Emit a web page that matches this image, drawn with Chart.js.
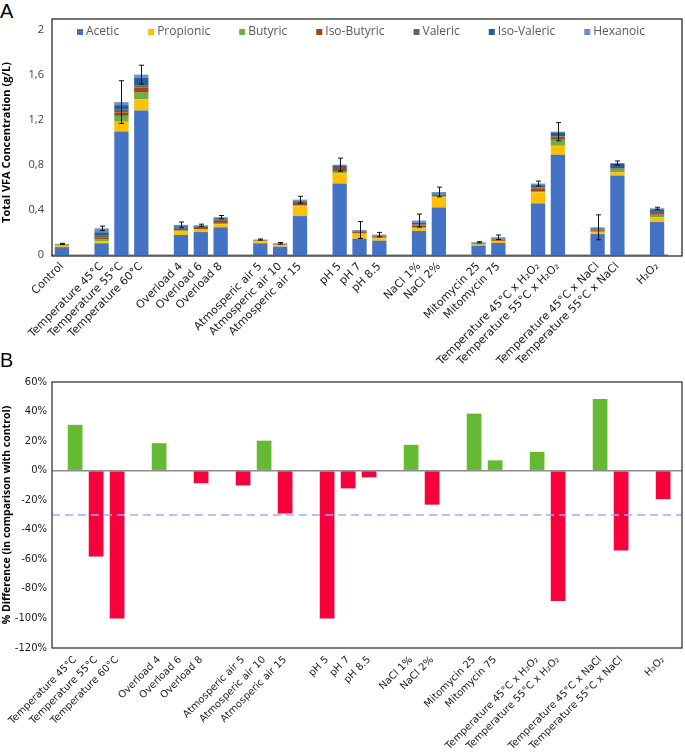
<!DOCTYPE html>
<html>
<head>
<meta charset="utf-8">
<script src="https://cdn.jsdelivr.net/npm/chart.js@4.4.0/dist/chart.umd.min.js"></script>
<style>
  body { margin: 0; background: #fff; }
  #page { position: relative; width: 685px; height: 753px; overflow: hidden; }
  .panel-tag { position: absolute; left: 0; font: 20px "Liberation Sans", Arial, sans-serif; line-height: 20px; color: #000; }
  canvas { position: absolute; left: 0; }
</style>
</head>
<body>
<div id="page">
  <div class="panel-tag" style="top:1px">A</div>
  <canvas id="chartA" width="685" height="370" style="top:0"></canvas>
  <div class="panel-tag" style="top:350px">B</div>
  <canvas id="chartB" width="685" height="383" style="top:370px"></canvas>
</div>
<script>
// Panel A - stacked VFA composition (g/L), blank strings are the gaps between groups
const labelsA = ['Control', '', 'Temperature 45°C', 'Temperature 55°C', 'Temperature 60°C', '',
  'Overload 4', 'Overload 6', 'Overload 8', '', 'Atmosperic air 5', 'Atmosperic air 10', 'Atmosperic air 15', '',
  'pH 5', 'pH 7', 'pH 8.5', '', 'NaCl 1%', 'NaCl 2%', '', 'Mitomycin 25', 'Mitomycin 75', '',
  'Temperature 45°C x H₂O₂', 'Temperature 55°C x H₂O₂', '', 'Temperature 45°C x NaCl', 'Temperature 55°C x NaCl', '', 'H₂O₂'];

const acetic     = [0.07, null, 0.104, 1.098, 1.284, null, 0.178, 0.204, 0.246, null, 0.104, 0.074, 0.346, null, 0.636, 0.145, 0.127, null, 0.213, 0.423, null, 0.083, 0.107, null, 0.459, 0.891, null, 0.186, 0.707, null, 0.293];
const propionic  = [0.012, null, 0.018, 0.086, 0.1, null, 0.03, 0.021, 0.027, null, 0.018, 0.012, 0.086, null, 0.092, 0.044, 0.021, null, 0.021, 0.089, null, 0.009, 0.012, null, 0.098, 0.08, null, 0.018, 0.027, null, 0.044];
const butyric    = [0.003, null, 0.015, 0.053, 0.059, null, 0.009, 0.006, 0.012, null, 0.003, 0.003, 0.009, null, 0.012, 0.006, 0.006, null, 0.012, 0.009, null, 0.006, 0.003, null, 0.012, 0.053, null, 0.009, 0.024, null, 0.012];
const isoButyric = [0.003, null, 0.02, 0.03, 0.047, null, 0.015, 0.009, 0.018, null, 0.003, 0.003, 0.021, null, 0.033, 0.009, 0.012, null, 0.015, 0.012, null, 0.004, 0.009, null, 0.024, 0.024, null, 0.006, 0.009, null, 0.012];
const valeric    = [0.002, null, 0.02, 0.024, 0.015, null, 0.015, 0.009, 0.012, null, 0.003, 0.003, 0.012, null, 0.009, 0.006, 0.006, null, 0.012, 0.006, null, 0.004, 0.006, null, 0.009, 0.006, null, 0.006, 0.006, null, 0.03];
const isoValeric = [0.003, null, 0.025, 0.041, 0.071, null, 0.009, 0.006, 0.012, null, 0.003, 0.003, 0.009, null, 0.009, 0.006, 0.003, null, 0.015, 0.009, null, 0.003, 0.009, null, 0.018, 0.036, null, 0.012, 0.036, null, 0.015];
const hexanoic   = [0.006, null, 0.035, 0.027, 0.027, null, 0.012, 0.009, 0.009, null, 0.003, 0.006, 0.009, null, 0.012, 0.006, 0.006, null, 0.018, 0.012, null, 0.004, 0.012, null, 0.015, 0.006, null, 0.009, 0.009, null, 0.009];
// standard deviation on the total
const errorA     = [0.005, null, 0.02, 0.19, 0.084, null, 0.025, 0.01, 0.015, null, 0.005, 0.007, 0.03, null, 0.058, 0.075, 0.02, null, 0.058, 0.043, null, 0.005, 0.02, null, 0.022, 0.081, null, 0.111, 0.018, null, 0.01];

const acidNames  = ['Acetic', 'Propionic', 'Butyric', 'Iso-Butyric', 'Valeric', 'Iso-Valeric', 'Hexanoic'];
const acidSeries = [acetic, propionic, butyric, isoButyric, valeric, isoValeric, hexanoic];
const acidColors = ['#4472C4', '#FFC000', '#70AD47', '#9E480E', '#636363', '#255E91', '#698ED0'];
const ticksA     = [0, 0.4, 0.8, 1.2, 1.6, 2];

// Panel B - % difference vs control
const labelsB = ['Temperature 45°C', 'Temperature 55°C', 'Temperature 60°C', '',
  'Overload 4', 'Overload 6', 'Overload 8', '', 'Atmosperic air 5', 'Atmosperic air 10', 'Atmosperic air 15', '',
  'pH 5', 'pH 7', 'pH 8.5', '', 'NaCl 1%', 'NaCl 2%', '', 'Mitomycin 25', 'Mitomycin 75', '',
  'Temperature 45°C x H₂O₂', 'Temperature 55°C x H₂O₂', '', 'Temperature 45°C x NaCl', 'Temperature 55°C x NaCl', '', 'H₂O₂'];
const diffB   = [31, -58, -100, null, 18.6, -0.5, -8.5, null, -10, 20.3, -29, null, -100, -12, -4.5, null, 17.5, -23, null, 38.6, 7, null, 12.7, -88.2, null, 48.5, -54, null, -19.3];
const thresholdB = -30;
const ticksB  = [-120, -100, -80, -60, -40, -20, 0, 20, 40, 60];

const tickFont = { family: 'DejaVu Sans', size: 11 };

// box around panel A (extends past the plot area like the Excel chart)
const frameA = {
  id: 'frameA',
  beforeDatasetsDraw(chart) {
    const { ctx, chartArea: a } = chart;
    ctx.save();
    ctx.strokeStyle = '#1a1a1a';
    ctx.lineWidth = 1.2;
    ctx.strokeRect(a.left, a.top - 11, a.right + 15 - a.left, a.bottom + 11 - a.top + 1);
    ctx.restore();
  }
};

const legendA = {
  id: 'legendA',
  afterDraw(chart) {
    const { ctx, chartArea: a } = chart;
    ctx.save();
    ctx.font = '12px "Open Sans"';
    ctx.textBaseline = 'middle';
    let x = a.left + 25;
    const y = a.top + 2;
    chart.data.datasets.forEach(ds => {
      ctx.fillStyle = ds.backgroundColor;
      ctx.fillRect(x, y - 3, 6, 6);
      ctx.fillStyle = '#595959';
      ctx.fillText(ds.label, x + 9, y);
      x += 9 + ctx.measureText(ds.label).width + 29;
    });
    ctx.restore();
  }
};

const errorBarsA = {
  id: 'errorBarsA',
  afterDatasetsDraw(chart) {
    const { ctx, scales: { x, y } } = chart;
    ctx.save();
    ctx.strokeStyle = '#111';
    ctx.lineWidth = 1;
    errorA.forEach((err, i) => {
      if (err == null) return;
      const total = acidSeries.reduce((s, arr) => s + (arr[i] || 0), 0);
      const px = Math.round(x.getPixelForValue(i)) + 0.5;
      const top = y.getPixelForValue(total + err);
      const bot = y.getPixelForValue(total - err);
      ctx.beginPath();
      ctx.moveTo(px, top); ctx.lineTo(px, bot);
      ctx.moveTo(px - 2.5, top); ctx.lineTo(px + 2.5, top);
      ctx.moveTo(px - 2.5, bot); ctx.lineTo(px + 2.5, bot);
      ctx.stroke();
    });
    ctx.restore();
  }
};

new Chart(document.getElementById('chartA'), {
  type: 'bar',
  data: {
    labels: labelsA,
    datasets: acidNames.map((name, i) => ({
      label: name,
      data: acidSeries[i],
      backgroundColor: acidColors[i],
      stack: 'vfa',
      barPercentage: 0.72,
      categoryPercentage: 1
    }))
  },
  options: {
    responsive: false,
    animation: false,
    layout: { padding: { top: 30, right: 18, left: 0, bottom: 0 } },
    plugins: { legend: { display: false }, tooltip: { enabled: false } },
    scales: {
      x: {
        stacked: true,
        grid: { display: false, drawTicks: false },
        border: { display: true, color: '#BFBFBF', width: 2 },
        ticks: { autoSkip: false, minRotation: 45, maxRotation: 45, padding: 5, color: '#1a1a1a', font: tickFont },
        afterFit: s => { s.height = 115; }
      },
      y: {
        stacked: true,
        min: 0,
        max: 2,
        afterBuildTicks: s => { s.ticks = ticksA.map(v => ({ value: v })); },
        ticks: {
          padding: 8,
          color: '#404040',
          font: { family: 'Open Sans', size: 11 },
          callback: v => String(v).replace('.', ',')
        },
        grid: { display: false, drawTicks: false },
        border: { display: false },
        title: {
          display: true,
          text: 'Total VFA Concentration (g/L)',
          color: '#000',
          font: { family: 'Open Sans', size: 11, weight: 'bold' },
          padding: { top: 0, bottom: 0 }
        },
        afterFit: s => { s.width = 52; }
      }
    }
  },
  plugins: [frameA, legendA, errorBarsA]
});

const frameB = {
  id: 'frameB',
  afterDraw(chart) {
    const { ctx, chartArea: a } = chart;
    ctx.save();
    ctx.strokeStyle = '#262626';
    ctx.lineWidth = 1.2;
    ctx.strokeRect(a.left, a.top, a.right - a.left, a.bottom - a.top);
    ctx.restore();
  }
};

const thresholdLineB = {
  id: 'thresholdLineB',
  afterDatasetsDraw(chart) {
    const { ctx, chartArea: a, scales: { y } } = chart;
    const py = y.getPixelForValue(thresholdB);
    ctx.save();
    ctx.strokeStyle = '#9AAEFF';
    ctx.lineWidth = 1.5;
    ctx.setLineDash([8, 5]);
    ctx.beginPath();
    ctx.moveTo(a.left, py); ctx.lineTo(a.right, py);
    ctx.stroke();
    ctx.restore();
  }
};

new Chart(document.getElementById('chartB'), {
  type: 'bar',
  data: {
    datasets: [{
      label: '% Difference',
      data: labelsB.map((l, i) => ({ x: i, y: diffB[i] })).filter(p => p.y != null),
      backgroundColor: c => (c.raw && c.raw.y >= 0) ? '#66B933' : '#F7003C',
      barPercentage: 0.7,
      categoryPercentage: 1
    }]
  },
  options: {
    responsive: false,
    animation: false,
    layout: { padding: { top: 12, right: 3, left: 0, bottom: 0 } },
    plugins: { legend: { display: false }, tooltip: { enabled: false } },
    scales: {
      x: {
        type: 'linear',
        min: -1.1,
        max: 28.9,
        offset: false,
        afterBuildTicks: s => { s.ticks = labelsB.map((l, i) => ({ value: i })); },
        grid: { display: false, drawTicks: false },
        border: { display: false },
        ticks: {
          autoSkip: false, minRotation: 45, maxRotation: 45, padding: 6, color: '#1a1a1a',
          font: { family: 'DejaVu Sans', size: 10 },
          callback: v => labelsB[v]
        },
        afterFit: s => { s.height = 105; }
      },
      y: {
        min: -120,
        max: 60,
        afterBuildTicks: s => { s.ticks = ticksB.map(v => ({ value: v })); },
        ticks: { padding: 5, color: '#1a1a1a', font: { family: 'DejaVu Sans', size: 10 }, callback: v => v + '%' },
        grid: {
          drawTicks: false,
          lineWidth: 1.5,
          color: c => c.tick && c.tick.value === 0 ? '#8C8C8C' : 'rgba(0,0,0,0)'
        },
        border: { display: false },
        title: {
          display: true,
          text: '% Difference (in comparison with control)',
          color: '#000',
          font: { family: 'Open Sans', size: 10.5, weight: 'bold' },
          padding: { top: 1, bottom: 0 }
        },
        afterFit: s => { s.width = 52; }
      }
    }
  },
  plugins: [frameB, thresholdLineB]
});
</script>
</body>
</html>
